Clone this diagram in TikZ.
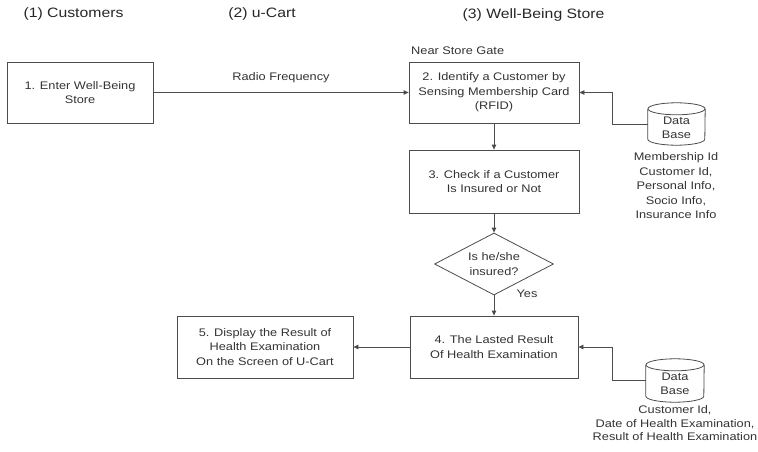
\documentclass[tikz,border=0pt]{standalone}
\usepackage{fontspec}
\setmainfont{Liberation Sans}[FakeStretch=1.16]
\usetikzlibrary{arrows.meta,shapes.geometric}
% outline of a database drum around a named node (half-width #2, cap radius #3)
\newcommand\drumoutline[3]{%
  \draw[line] ([yshift=-#3pt]#1.north) ellipse [x radius=#2, y radius=#3];
  \draw[line] ([yshift=-#3pt]#1.north west) -- ([yshift=#3pt]#1.south west)
    arc[start angle=180, end angle=0, x radius=#2, y radius=#3]
    -- ([yshift=-#3pt]#1.north east);}
\begin{document}
\begin{tikzpicture}[x=1pt,y=-1pt,
  txt/.style={text=black!80,font=\fontsize{11}{14.5}\selectfont,align=center,inner sep=0pt},
  head/.style={text=black!85,font=\fontsize{13.6}{16}\selectfont,inner sep=0pt},
  line/.style={draw=black!70,line width=0.8pt},
  stepbox/.style={txt,line,rectangle},
  decision/.style={txt,line,diamond,aspect=2,inner sep=0pt},
  drum/.style={txt,rectangle,inner sep=0pt},
  arr/.style={line,-{Triangle[length=5pt,width=4.5pt]}}]
\useasboundingbox (0,0) rectangle (758,452);

% column headings
\node[head] (h1) at (73.5,14) {(1) Customers};
\node[head] (h2) at (262,14) {(2) u-Cart};
\node[head] (h3) at (533.5,15) {(3) Well-Being Store};

% process steps
\node[stepbox,minimum width=146pt,minimum height=61pt] (b1) at (80,92.5) {1. Enter Well-Being\\Store};
\node[stepbox,minimum width=170pt,minimum height=61pt] (b2) at (494,92.5) {2. Identify a Customer by\\Sensing Membership Card\\(RFID)};
\node[txt,anchor=west] (gate) at (411,51) {Near Store Gate};
\node[stepbox,minimum width=170pt,minimum height=63pt] (b3) at (494,181.5) {3. Check if a Customer\\Is Insured or Not};
\node[decision,minimum width=119pt,minimum height=62pt] (d1) at (494,264) {Is he/she\\insured?};
\node[stepbox,minimum width=168pt,minimum height=62pt] (b4) at (494,347) {4. The Lasted Result\\Of Health Examination};
\node[stepbox,minimum width=176pt,minimum height=62pt] (b5) at (265,347) {5. Display the Result of\\Health Examination\\On the Screen of U-Cart};

% databases
\node[drum,minimum width=57pt,minimum height=42pt] (db1) at (676.5,124) {};
\drumoutline{db1}{28.5}{6}
\node[txt] (db1t) at (676.5,128) {Data\\Base};
\node[txt] (db1i) at (676,186) {Membership Id\\Customer Id,\\Personal Info,\\Socio Info,\\Insurance Info};
\node[drum,minimum width=58pt,minimum height=43pt] (db2) at (675,380.5) {};
\drumoutline{db2}{29}{6}
\node[txt] (db2t) at (675,384) {Data\\Base};
\node[txt,font=\fontsize{11}{13.5}\selectfont] (db2i) at (675,423.5) {Customer Id,\\Date of Health Examination,\\Result of Health Examination};

% connectors
\draw[arr] (b1.east) -- node[txt,above=9pt] (rf) {Radio Frequency} (b2.west);
\draw[arr] (b2.south) -- (b3.north);
\draw[arr] (b3.south) -- (d1.north);
\draw[arr] (d1.south) -- (b4.north);
\node[txt] (yes) at (527,294) {Yes};
\draw[arr] (b4.west) -- (b5.east);
\draw[arr] (db1.west) -- ++(-35,0) |- (b2.east);
\draw[arr] (db2.west) -- ++(-33,0) |- (b4.east);
\end{tikzpicture}
\end{document}
